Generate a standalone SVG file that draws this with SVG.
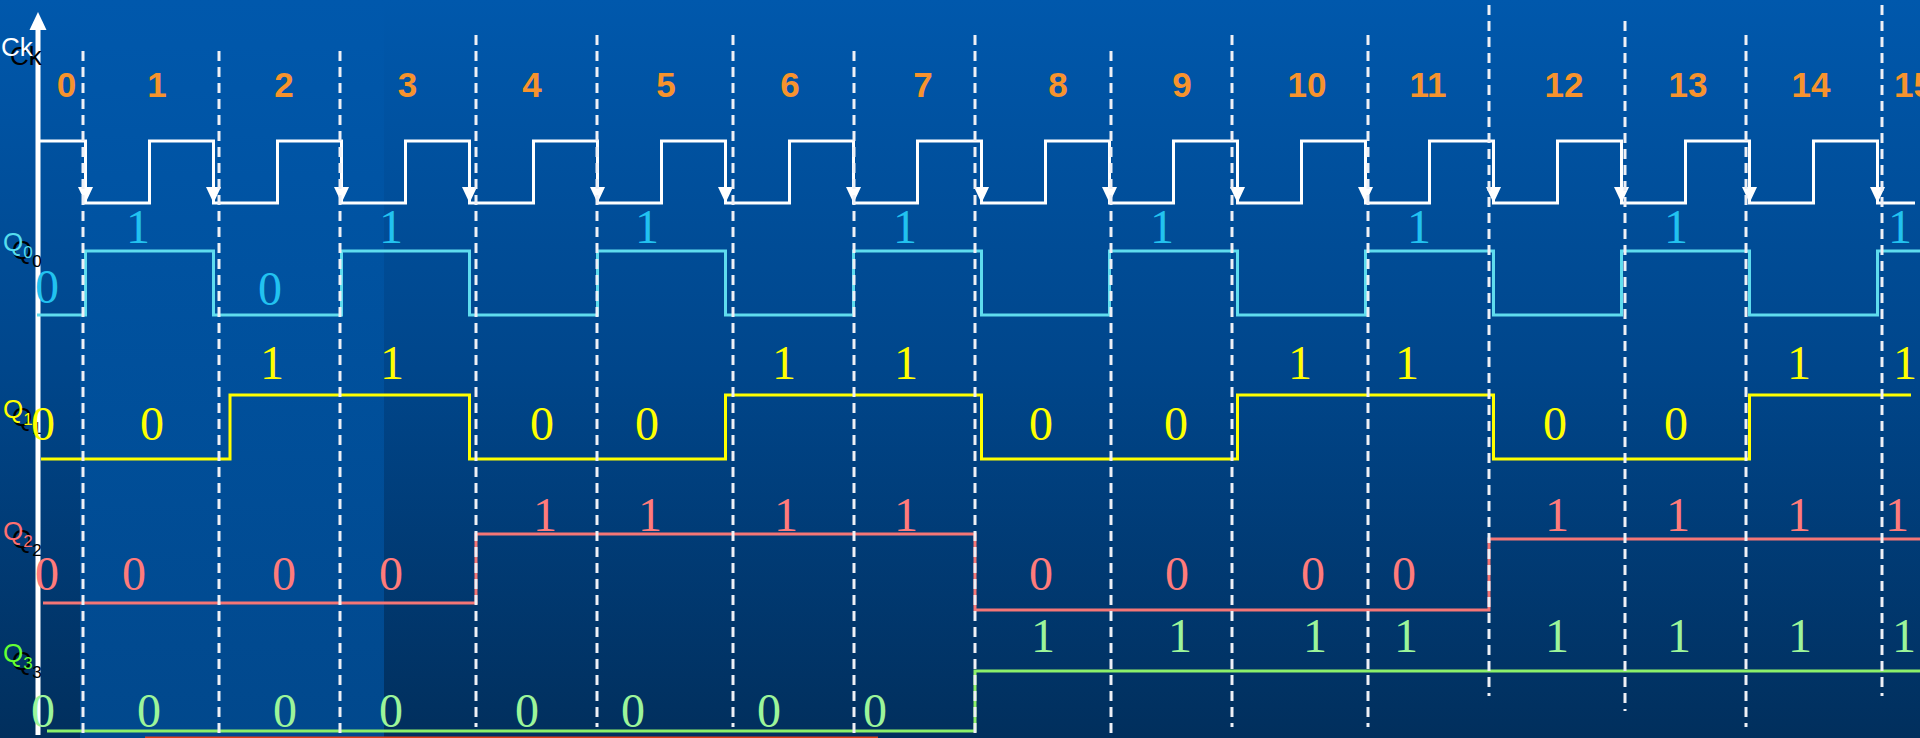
<svg xmlns="http://www.w3.org/2000/svg" xmlns:xlink="http://www.w3.org/1999/xlink" width="1920" height="738" viewBox="0 0 1920 738">
<defs>
<linearGradient id="bg" x1="0" y1="0" x2="0" y2="738" gradientUnits="userSpaceOnUse">
<stop offset="0" stop-color="#0058AC"/>
<stop offset="0.5" stop-color="#00468B"/>
<stop offset="1" stop-color="#012F5D"/>
</linearGradient>
<linearGradient id="bg2" x1="0" y1="0" x2="0" y2="738" gradientUnits="userSpaceOnUse">
<stop offset="0" stop-color="#0058AC"/>
<stop offset="0.3" stop-color="#0053A2"/>
<stop offset="1" stop-color="#01488C"/>
</linearGradient>
<polygon id="ah" points="-7.5,-16 7.5,-16 0,0" fill="#FFFFFF"/>
<style>
.dash{stroke:#EEF0F6;stroke-width:3;stroke-dasharray:10 6;fill:none}
.wave{fill:none;stroke-width:3;stroke-linejoin:miter}
.num{font-family:"Liberation Sans",Arial,sans-serif;font-weight:bold;font-size:35px;fill:#F7932D;text-anchor:middle}
.bit{font-family:"Liberation Serif","Times New Roman",serif;font-size:48px;text-anchor:middle}
.lbl{font-family:"Liberation Sans",Arial,sans-serif;font-size:26px}
.sub{font-size:17px}
.sh{fill:#000000}
</style>
</defs>
<rect x="0" y="0" width="1920" height="738" fill="url(#bg)"/>
<rect x="80" y="0" width="304" height="738" fill="url(#bg2)"/>
<line x1="145" y1="738" x2="878" y2="738" stroke="#E0401C" stroke-width="3"/>

<g id="axis">
<line x1="38" y1="30" x2="38" y2="735" stroke="#FFFFFF" stroke-width="5"/>
<polygon points="38,12 29.5,30 46.5,30" fill="#FFFFFF"/>
</g>

<g id="clock">
<path class="wave" stroke="#FFFFFF" d="M38,141 H85.5 V203 H149.5 V141 H213.5 V203 H277.5 V141 H341.5 V203 H405.5 V141 H469.5 V203 H533.5 V141 H597.5 V203 H661.5 V141 H725.5 V203 H789.5 V141 H853.5 V203 H917.5 V141 H981.5 V203 H1045.5 V141 H1109.5 V203 H1173.5 V141 H1237.5 V203 H1301.5 V141 H1365.5 V203 H1429.5 V141 H1493.5 V203 H1557.5 V141 H1621.5 V203 H1685.5 V141 H1749.5 V203 H1813.5 V141 H1877.5 V203 H1915"/>
<use xlink:href="#ah" x="85.5" y="203"/>
<use xlink:href="#ah" x="213.5" y="203"/>
<use xlink:href="#ah" x="341.5" y="203"/>
<use xlink:href="#ah" x="469.5" y="203"/>
<use xlink:href="#ah" x="597.5" y="203"/>
<use xlink:href="#ah" x="725.5" y="203"/>
<use xlink:href="#ah" x="853.5" y="203"/>
<use xlink:href="#ah" x="981.5" y="203"/>
<use xlink:href="#ah" x="1109.5" y="203"/>
<use xlink:href="#ah" x="1237.5" y="203"/>
<use xlink:href="#ah" x="1365.5" y="203"/>
<use xlink:href="#ah" x="1493.5" y="203"/>
<use xlink:href="#ah" x="1621.5" y="203"/>
<use xlink:href="#ah" x="1749.5" y="203"/>
<use xlink:href="#ah" x="1877.5" y="203"/>
</g>

<g id="q0-wave">
<path class="wave" stroke="#5FDCEE" d="M37,315 H85.5 V251 H213.5 V315 H341.5 V251 H469.5 V315 H597.5 V251 H725.5 V315 H853.5 V251 H981.5 V315 H1109.5 V251 H1237.5 V315 H1365.5 V251 H1493.5 V315 H1621.5 V251 H1749.5 V315 H1877.5 V251 H1920"/>
</g>
<g id="q1-wave">
<path class="wave" stroke="#FFFF00" d="M41,459 H230 V395 H469.5 V459 H725.5 V395 H981.5 V459 H1237.5 V395 H1493.5 V459 H1749.5 V395 H1911"/>
</g>
<g id="q2-wave">
<path class="wave" stroke="#F57676" d="M43,603 H476 V534 H975 V610 H1489 V539 H1920"/>
</g>
<g id="q3-wave">
<path class="wave" stroke="#8CF06A" d="M47,731 H975 V671 H1920"/>
</g>

<g id="gridlines">
<line class="dash" x1="83" y1="51" x2="83" y2="738"/>
<line class="dash" x1="219" y1="51" x2="219" y2="738"/>
<line class="dash" x1="340" y1="51" x2="340" y2="738"/>
<line class="dash" x1="476" y1="35" x2="476" y2="727"/>
<line class="dash" x1="597" y1="35" x2="597" y2="727"/>
<line class="dash" x1="733" y1="35" x2="733" y2="727"/>
<line class="dash" x1="854" y1="51" x2="854" y2="738"/>
<line class="dash" x1="975" y1="35" x2="975" y2="738"/>
<line class="dash" x1="1111" y1="51" x2="1111" y2="738"/>
<line class="dash" x1="1232" y1="35" x2="1232" y2="727"/>
<line class="dash" x1="1368" y1="35" x2="1368" y2="727"/>
<line class="dash" x1="1489" y1="5" x2="1489" y2="696"/>
<line class="dash" x1="1625" y1="21" x2="1625" y2="711"/>
<line class="dash" x1="1746" y1="35" x2="1746" y2="727"/>
<line class="dash" x1="1882" y1="5" x2="1882" y2="696"/>
</g>

<g id="state-numbers">
<text class="num" x="66.5" y="97">0</text>
<text class="num" x="157" y="97">1</text>
<text class="num" x="284" y="97">2</text>
<text class="num" x="407.5" y="97">3</text>
<text class="num" x="532" y="97">4</text>
<text class="num" x="666" y="97">5</text>
<text class="num" x="790" y="97">6</text>
<text class="num" x="923" y="97">7</text>
<text class="num" x="1058" y="97">8</text>
<text class="num" x="1182" y="97">9</text>
<text class="num" x="1307" y="97">10</text>
<text class="num" x="1428" y="97">11</text>
<text class="num" x="1564" y="97">12</text>
<text class="num" x="1688" y="97">13</text>
<text class="num" x="1811" y="97">14</text>
<text class="num" x="1894" y="97" style="text-anchor:start">15</text>
</g>

<g id="label-ck">
<text class="lbl sh" x="10" y="65">Ck</text>
<text class="lbl" x="1" y="56" fill="#FFFFFF">Ck</text>
</g>
<g id="label-q0">
<text class="lbl sh" x="12" y="259">Q<tspan class="sub" dy="8">0</tspan></text>
<text class="lbl" x="3" y="251" fill="#55DDEE">Q<tspan class="sub" dy="7">0</tspan></text>
</g>
<g id="label-q1">
<text class="lbl sh" x="12" y="426">Q<tspan class="sub" dy="8">1</tspan></text>
<text class="lbl" x="3" y="418" fill="#FFFF00">Q<tspan class="sub" dy="7">1</tspan></text>
</g>
<g id="label-q2">
<text class="lbl sh" x="12" y="548">Q<tspan class="sub" dy="8">2</tspan></text>
<text class="lbl" x="3" y="540" fill="#FF7070">Q<tspan class="sub" dy="7">2</tspan></text>
</g>
<g id="label-q3">
<text class="lbl sh" x="12" y="670">Q<tspan class="sub" dy="8">3</tspan></text>
<text class="lbl" x="3" y="662" fill="#66FF33">Q<tspan class="sub" dy="7">3</tspan></text>
</g>

<g id="q0-bits" fill="#22C2F0">
<text class="bit" x="47" y="303">0</text>
<text class="bit" x="270" y="305">0</text>
<text class="bit" x="138" y="243">1</text>
<text class="bit" x="391" y="243">1</text>
<text class="bit" x="647" y="243">1</text>
<text class="bit" x="905" y="243">1</text>
<text class="bit" x="1162" y="243">1</text>
<text class="bit" x="1419" y="243">1</text>
<text class="bit" x="1676" y="243">1</text>
<text class="bit" x="1900" y="243">1</text>
</g>
<g id="q1-bits" fill="#FFFF00">
<text class="bit" x="43" y="440">0</text>
<text class="bit" x="152" y="440">0</text>
<text class="bit" x="542" y="440">0</text>
<text class="bit" x="647" y="440">0</text>
<text class="bit" x="1041" y="440">0</text>
<text class="bit" x="1176" y="440">0</text>
<text class="bit" x="1555" y="440">0</text>
<text class="bit" x="1676" y="440">0</text>
<text class="bit" x="272" y="379">1</text>
<text class="bit" x="392" y="379">1</text>
<text class="bit" x="784" y="379">1</text>
<text class="bit" x="906" y="379">1</text>
<text class="bit" x="1300" y="379">1</text>
<text class="bit" x="1407" y="379">1</text>
<text class="bit" x="1799" y="379">1</text>
<text class="bit" x="1905" y="379">1</text>
</g>
<g id="q2-bits" fill="#FF7B7B">
<text class="bit" x="47" y="590">0</text>
<text class="bit" x="134" y="590">0</text>
<text class="bit" x="284" y="590">0</text>
<text class="bit" x="391" y="590">0</text>
<text class="bit" x="1041" y="590">0</text>
<text class="bit" x="1177" y="590">0</text>
<text class="bit" x="1313" y="590">0</text>
<text class="bit" x="1404" y="590">0</text>
<text class="bit" x="545" y="531">1</text>
<text class="bit" x="650" y="531">1</text>
<text class="bit" x="786" y="531">1</text>
<text class="bit" x="906" y="531">1</text>
<text class="bit" x="1557" y="531">1</text>
<text class="bit" x="1678" y="531">1</text>
<text class="bit" x="1799" y="531">1</text>
<text class="bit" x="1897" y="531">1</text>
</g>
<g id="q3-bits" fill="#9CF59A">
<text class="bit" x="43" y="727">0</text>
<text class="bit" x="149" y="727">0</text>
<text class="bit" x="285" y="727">0</text>
<text class="bit" x="391" y="727">0</text>
<text class="bit" x="527" y="727">0</text>
<text class="bit" x="633" y="727">0</text>
<text class="bit" x="769" y="727">0</text>
<text class="bit" x="875" y="727">0</text>
<text class="bit" x="1043" y="652">1</text>
<text class="bit" x="1180" y="652">1</text>
<text class="bit" x="1315" y="652">1</text>
<text class="bit" x="1406" y="652">1</text>
<text class="bit" x="1557" y="652">1</text>
<text class="bit" x="1679" y="652">1</text>
<text class="bit" x="1800" y="652">1</text>
<text class="bit" x="1904" y="652">1</text>
</g>
</svg>
